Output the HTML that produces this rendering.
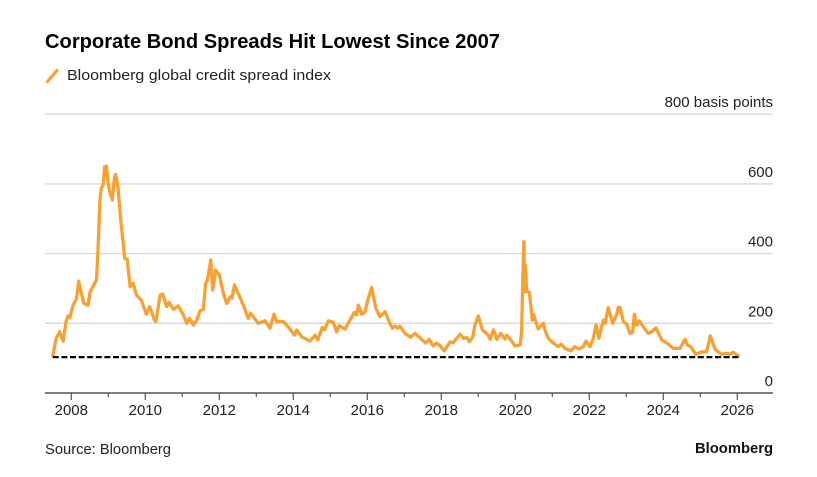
<!DOCTYPE html>
<html lang="en">
<head>
<meta charset="utf-8">
<title>Corporate Bond Spreads Hit Lowest Since 2007</title>
<style>
html,body{margin:0;padding:0;background:#fff;width:817px;height:477px;overflow:hidden}
svg{display:block;font-family:"Liberation Sans",Arial,sans-serif}
</style>
</head>
<body>
<svg id="chart" width="817" height="477" viewBox="0 0 817 477" xmlns="http://www.w3.org/2000/svg">
  <rect x="0" y="0" width="817" height="477" fill="#ffffff"/>
  <text x="45" y="48" font-size="20" font-weight="700" fill="#000" textLength="455" lengthAdjust="spacingAndGlyphs">Corporate Bond Spreads Hit Lowest Since 2007</text>
  <line x1="47.5" y1="81.5" x2="57" y2="70.5" stroke="#f9a033" stroke-width="3.2" stroke-linecap="round"/>
  <text x="67" y="80" font-size="15" fill="#222" textLength="264" lengthAdjust="spacingAndGlyphs">Bloomberg global credit spread index</text>
  <g id="grid"></g>
  <g id="y-labels"></g>
  <g id="x-axis"></g>
  <path id="series" fill="none" stroke="#f9a033" stroke-width="3.3" stroke-linejoin="round" stroke-linecap="round"/>
  <line id="floor" stroke="#000" stroke-width="2.2" stroke-dasharray="6 2.6"/>
  <text x="45" y="454" font-size="14.5" fill="#222" textLength="126" lengthAdjust="spacingAndGlyphs">Source: Bloomberg</text>
  <text x="773" y="453" font-size="15" font-weight="700" fill="#111" text-anchor="end" textLength="78" lengthAdjust="spacingAndGlyphs">Bloomberg</text>
</svg>
<script>
const years = [2007.50,2007.57,2007.61,2007.69,2007.73,2007.78,2007.86,2007.91,2007.96,2008.05,2008.14,2008.20,2008.25,2008.34,2008.45,2008.51,2008.68,2008.72,2008.77,2008.81,2008.86,2008.90,2008.95,2008.99,2009.05,2009.11,2009.17,2009.20,2009.26,2009.34,2009.40,2009.44,2009.51,2009.59,2009.67,2009.76,2009.89,2010.03,2010.12,2010.25,2010.29,2010.40,2010.47,2010.58,2010.64,2010.76,2010.89,2011.03,2011.12,2011.19,2011.30,2011.39,2011.48,2011.57,2011.63,2011.68,2011.77,2011.82,2011.90,2012.00,2012.11,2012.20,2012.29,2012.34,2012.41,2012.51,2012.65,2012.78,2012.85,2013.05,2013.24,2013.37,2013.48,2013.55,2013.73,2013.86,2014.03,2014.09,2014.23,2014.45,2014.59,2014.66,2014.78,2014.84,2014.95,2015.08,2015.17,2015.24,2015.40,2015.53,2015.65,2015.71,2015.76,2015.85,2015.94,2016.01,2016.12,2016.23,2016.34,2016.48,2016.61,2016.68,2016.75,2016.82,2016.88,2017.02,2017.17,2017.29,2017.47,2017.58,2017.67,2017.78,2017.88,2017.97,2018.08,2018.24,2018.32,2018.51,2018.60,2018.69,2018.76,2018.85,2018.91,2019.00,2019.11,2019.27,2019.32,2019.41,2019.50,2019.61,2019.72,2019.77,2019.90,2019.99,2020.13,2020.17,2020.20,2020.23,2020.25,2020.27,2020.31,2020.38,2020.46,2020.49,2020.62,2020.76,2020.80,2020.89,2021.03,2021.16,2021.24,2021.34,2021.50,2021.61,2021.72,2021.84,2021.91,2022.02,2022.11,2022.18,2022.26,2022.38,2022.43,2022.51,2022.63,2022.74,2022.78,2022.83,2022.92,2023.01,2023.10,2023.17,2023.22,2023.28,2023.35,2023.46,2023.59,2023.69,2023.80,2023.96,2024.14,2024.27,2024.45,2024.59,2024.65,2024.74,2024.88,2025.04,2025.17,2025.27,2025.40,2025.58,2025.71,2025.80,2025.89,2026.03];
const spreads = [106,147,161,176,161,149,205,221,216,252,270,321,296,257,252,291,324,405,549,587,597,649,651,606,573,554,621,627,592,492,434,386,384,305,315,281,267,226,248,209,205,281,284,248,260,240,250,224,200,214,195,209,236,240,315,324,382,296,353,339,286,257,276,272,310,286,252,214,229,200,207,186,226,205,205,190,166,181,161,149,166,152,188,181,207,203,176,193,183,209,231,224,252,226,233,267,303,243,219,233,200,186,192,186,192,171,160,171,154,143,154,135,143,135,121,147,144,169,157,159,147,161,195,221,181,166,154,181,154,171,155,166,149,135,138,176,310,434,291,367,291,289,209,226,184,200,181,157,143,133,140,128,121,133,126,133,149,133,157,195,157,209,200,245,200,224,245,246,205,198,171,174,226,195,207,190,171,176,187,152,140,128,128,154,138,133,111,118,118,164,125,111,114,111,117,106];
const yTicks = [0,200,400,600,800];
const xTickYears = [2008,2009,2010,2011,2012,2013,2014,2015,2016,2017,2018,2019,2020,2021,2022,2023,2024,2025,2026];
const referenceLevel = [103];

const NS = 'http://www.w3.org/2000/svg';
const plotLeft = 45, plotRight = 773;
function xScale(year){ return 71.3 + (year - 2008) * 37; }
function yScale(value){ return 393 - value * 0.3485; }

function svgEl(tag, attrs){
  const el = document.createElementNS(NS, tag);
  for (const k in attrs) el.setAttribute(k, attrs[k]);
  return el;
}

const grid = document.getElementById('grid');
const yLabels = document.getElementById('y-labels');
yTicks.forEach(function(t){
  if (t > 0) {
    const line = svgEl('line', {x1: plotLeft, x2: plotRight, y1: yScale(t), y2: yScale(t), stroke: '#d9d9d9', 'stroke-width': 1.4});
    
    
    grid.appendChild(line);
  }
  const label = svgEl('text', {x: plotRight, y: yScale(t) - 7, 'font-size': 15, fill: '#222', 'text-anchor': 'end'});
  
  
  label.textContent = t === 800 ? '800 basis points' : String(t);
  yLabels.appendChild(label);
});

const xAxis = document.getElementById('x-axis');
const axisLine = svgEl('line', {x1: plotLeft, x2: plotRight, y1: 393, y2: 393, stroke: '#555', 'stroke-width': 1.4});


xAxis.appendChild(axisLine);
xTickYears.forEach(function(yr){
  const major = yr % 2 === 0;
  const tick = svgEl('line', {x1: xScale(yr), x2: xScale(yr), y1: 393, y2: major ? 400 : 397, stroke: '#555', 'stroke-width': 1.2});
  
  
  xAxis.appendChild(tick);
  if (major) {
    const label = svgEl('text', {x: xScale(yr), y: 415, 'font-size': 15, fill: '#222', 'text-anchor': 'middle'});
    
    
    label.textContent = String(yr);
    xAxis.appendChild(label);
  }
});

document.getElementById('series').setAttribute('d', years.map(function(yr, i){
  return (i ? 'L' : 'M') + xScale(yr).toFixed(2) + ' ' + yScale(spreads[i]).toFixed(2);
}).join(' '));

const floorLine = document.getElementById('floor');
floorLine.setAttribute('x1', xScale(years[0]));
floorLine.setAttribute('x2', xScale(years[years.length - 1]) + 1);
floorLine.setAttribute('y1', yScale(referenceLevel[0]));
floorLine.setAttribute('y2', yScale(referenceLevel[0]));
</script>
</body>
</html>
